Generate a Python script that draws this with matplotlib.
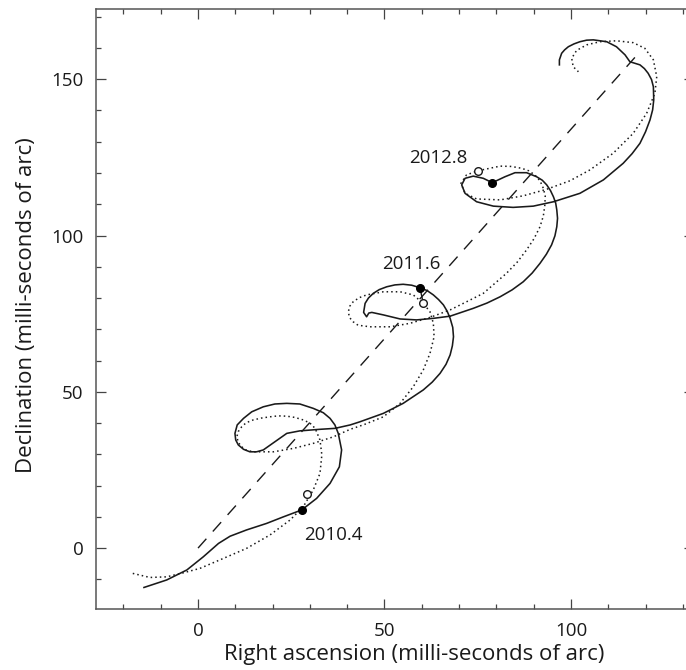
import matplotlib
matplotlib.use("Agg")
import matplotlib.pyplot as plt
from matplotlib.ticker import MultipleLocator

plt.rcParams['font.family'] = ['Open Sans', 'DejaVu Sans']

# Apparent track of the star, solid curve (mas)
solid_ra = [-14.5, -8.4, -3.0, 1.4, 5.5, 8.6, 13.0, 18.4, 22.9, 27.8, 31.8, 35.4, 37.9, 38.5,
            37.6, 36.7, 35.4, 33.6, 30.9, 27.3, 23.8, 20.6, 17.5, 14.4, 12.2, 10.5, 9.9, 10.1,
            10.8, 12.2, 13.9, 15.7, 17.5, 20.6, 23.8, 27.3, 32.7, 36.7, 40.8, 43.4, 49.7, 55.0,
            60.4, 62.8, 64.9, 66.5, 67.6, 68.2, 68.5, 68.3, 67.6, 66.8, 65.8, 64.5, 63.1, 61.4,
            59.5, 57.3, 55.0, 52.8, 50.6, 48.6, 47.0, 45.7, 44.8, 44.4, 45.2, 45.8, 46.6, 49.7,
            54.2, 58.6, 63.1, 67.6, 73.8, 77.5, 81.0, 84.2, 87.2, 89.6, 91.7, 93.4, 94.8, 95.7,
            96.2, 96.4, 96.2, 95.9, 95.3, 94.5, 93.5, 92.3, 90.8, 88.1, 85.0, 82.3, 78.9, 76.5,
            73.8, 71.6, 70.7, 71.6, 74.7, 79.2, 84.5, 89.9, 95.3, 102.4, 108.7, 114.0, 116.4,
            118.5, 120.0, 121.2, 121.9, 122.2, 122.1, 121.6, 120.7, 119.7, 118.5, 115.8, 114.5,
            112.2, 109.6, 106.0, 104.2, 102.4, 100.8, 99.3, 98.3, 97.5, 96.9, 96.9]
solid_dec = [-12.6, -10.2, -7.0, -2.8, 1.5, 3.8, 5.8, 7.9, 10.0, 12.2, 15.9, 20.7, 26.0, 31.4,
             36.7, 39.4, 41.5, 43.3, 44.7, 46.1, 46.3, 46.1, 45.2, 43.6, 41.5, 39.4, 36.7, 34.6,
             33.0, 31.6, 30.8, 30.8, 31.4, 34.0, 36.7, 37.5, 38.0, 38.3, 39.4, 40.4, 43.1, 46.3,
             50.6, 53.1, 55.9, 58.8, 61.8, 64.7, 67.6, 70.6, 73.5, 75.8, 77.8, 79.5, 81.0, 82.4,
             83.3, 84.1, 84.4, 84.2, 83.6, 82.7, 81.5, 80.0, 78.3, 75.4, 74.0, 75.2, 75.4, 74.6,
             73.3, 73.0, 73.5, 74.2, 76.7, 78.4, 80.4, 82.6, 85.2, 88.0, 91.1, 94.0, 97.0, 99.9,
             102.8, 105.5, 108.2, 110.4, 112.4, 114.4, 116.2, 117.7, 118.8, 120.1, 120.1, 118.8,
             116.9, 118.3, 119.0, 118.3, 116.2, 113.5, 110.8, 109.4, 109.0, 109.4, 110.8, 113.5,
             117.8, 123.1, 126.2, 129.5, 133.2, 137.0, 140.2, 143.4, 147.6, 149.9, 151.9, 153.4,
             154.6, 155.6, 157.8, 160.4, 162.0, 162.6, 162.5, 162.0, 161.3, 160.4, 159.4, 158.3,
             156.2, 154.6]

# Dotted curve
dot_ra = [-17.5, -12.9, -8.4, -3.9, 0.5, 6.8, 13.0, 19.3, 24.7, 28.2, 30.9, 32.7, 33.2, 32.7,
          31.4, 30.0, 28.2, 26.0, 23.8, 21.5, 19.3, 17.0, 14.8, 12.9, 11.7, 10.8, 10.4, 10.8,
          11.7, 13.0, 14.8, 20.2, 25.6, 30.9, 36.3, 40.8, 44.5, 49.7, 54.2, 57.7, 60.4, 62.2,
          63.3, 63.1, 62.2, 60.4, 57.7, 54.2, 49.7, 45.2, 43.2, 41.6, 40.7, 40.3, 40.6, 41.6,
          42.9, 46.1, 51.5, 56.8, 62.2, 67.6, 72.0, 76.5, 82.7, 85.6, 88.1, 90.1, 91.7, 92.6,
          93.0, 93.1, 92.6, 91.7, 90.3, 88.7, 86.8, 84.0, 81.0, 75.0, 72.0, 70.5, 71.6, 74.7,
          81.0, 87.2, 93.5, 99.7, 105.1, 111.3, 116.7, 120.3, 122.5, 123.0, 122.1, 119.8,
          116.7, 112.2, 107.8, 104.2, 101.5, 100.2, 100.6, 102.0]
dot_dec = [-8.1, -9.4, -9.2, -7.9, -6.5, -3.3, -0.1, 4.2, 9.0, 13.2, 18.6, 23.9, 29.8, 34.6,
           38.3, 40.0, 41.0, 41.8, 42.2, 42.3, 42.0, 41.6, 41.0, 40.1, 38.8, 37.3, 35.6, 33.8,
           32.4, 31.3, 30.8, 30.8, 31.9, 33.5, 35.6, 38.0, 39.5, 42.0, 46.3, 51.6, 57.0, 62.3,
           67.6, 71.9, 75.6, 78.3, 81.0, 82.0, 82.0, 81.0, 80.1, 78.8, 77.4, 75.6, 73.8, 72.4,
           71.3, 70.8, 70.8, 71.9, 73.8, 76.2, 78.8, 81.5, 87.9, 91.5, 95.4, 99.0, 102.8, 106.3,
           109.8, 112.6, 115.1, 117.5, 119.4, 120.7, 121.5, 122.1, 122.2, 120.7, 119.4, 116.7,
           113.5, 111.7, 111.4, 112.7, 114.8, 117.5, 121.0, 126.3, 132.7, 139.1, 145.5, 150.8,
           156.2, 159.9, 161.7, 162.3, 162.0, 161.0, 159.2, 156.7, 154.0, 152.4]

# Proper motion (dashed)
pm_ra = [0.0, 118.5]
pm_dec = [0.0, 158.8]

# Epoch markers
epochs = ["2010.4", "2011.6", "2012.8"]
filled_ra = [27.8, 59.5, 78.9]
filled_dec = [12.2, 83.3, 116.9]
open_ra = [29.3, 60.4, 75.0]
open_dec = [17.2, 78.3, 120.7]
label_ra = [36.3, 57.2, 64.4]
label_dec = [4.1, 90.8, 124.9]

fig = plt.figure(figsize=(6.86, 6.70), dpi=100)
ax = fig.add_axes([0.140, 0.091, 0.8717, 0.895])

ink = '#1a1a1a'
ax.plot(pm_ra, pm_dec, color=ink, lw=1.0, linestyle=(0, (9, 7)))
ax.plot(dot_ra, dot_dec, color=ink, lw=1.1, linestyle=(0, (1, 2)))
ax.plot(solid_ra, solid_dec, color=ink, lw=1.15, solid_joinstyle='round')

# short link between the two 2011.6 positions
ax.plot([filled_ra[1], open_ra[1]], [filled_dec[1], open_dec[1]], color=ink, lw=1.0)

ax.plot(open_ra, open_dec, 'o', ms=5.5, mfc='white', mec=ink, mew=1.0, linestyle='none')
ax.plot(filled_ra, filled_dec, 'o', ms=5.5, color='black', linestyle='none')

for lab, x, y in zip(epochs, label_ra, label_dec):
    ax.text(x, y, lab, fontsize=13.5, ha='center', va='center', color=ink)

ax.set_xlim(-27.35, 133.0)
ax.set_ylim(-19.5, 172.35)

ax.xaxis.set_major_locator(MultipleLocator(50))
ax.xaxis.set_minor_locator(MultipleLocator(10))
ax.yaxis.set_major_locator(MultipleLocator(50))
ax.yaxis.set_minor_locator(MultipleLocator(10))
ax.tick_params(which='both', direction='in', top=True, right=True, colors='#444',
               labelcolor=ink, labelsize=13.5, width=0.9)
ax.tick_params(which='major', length=7, pad=9)
ax.tick_params(which='minor', length=3.5)
for s in ax.spines.values():
    s.set_color('#555')
    s.set_linewidth(1.1)

ax.set_xlabel("Right ascension (milli-seconds of arc)", fontsize=16, color=ink)
ax.set_ylabel("Declination (milli-seconds of arc)", fontsize=16, color=ink)
ax.xaxis.set_label_coords(0.532, -0.058)
ax.yaxis.set_label_coords(-0.099, 0.507)

fig.savefig("out.png", dpi=100)
